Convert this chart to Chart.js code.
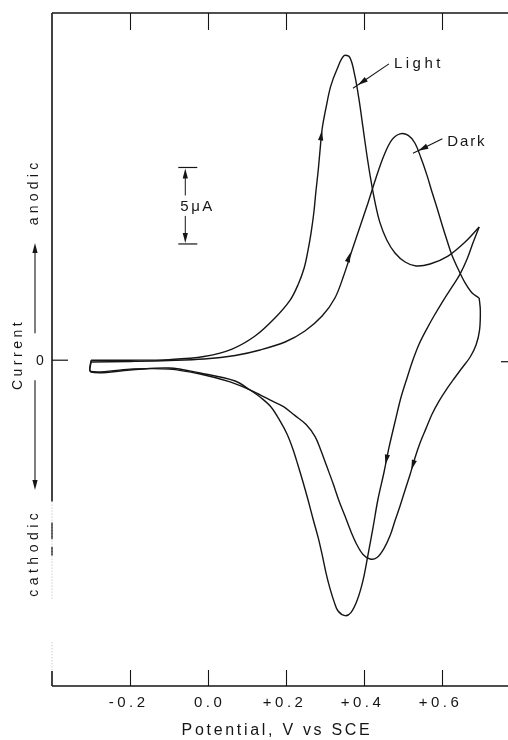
<!DOCTYPE html>
<html>
<head>
<meta charset="utf-8">
<script src="https://cdn.jsdelivr.net/npm/chart.js@4.4.1/dist/chart.umd.min.js"></script>
<style>
  html, body { margin: 0; padding: 0; background: #ffffff; }
  canvas { display: block; }
</style>
</head>
<body>
<canvas id="cv" width="508" height="740"></canvas>
<script>
// Potential axis (V vs SCE)
const potentialTicks = [-0.2, 0.0, 0.2, 0.4, 0.6];
const potentialTickLabels = ['-0.2', '0.0', '+0.2', '+0.4', '+0.6'];

// Illuminated electrode, anodic sweep -0.3 -> +0.7 V: potential (V), current (µA)
const lightFwdE = [-0.30, -0.20, -0.10, -0.01, 0.062, 0.121, 0.172, 0.211, 0.231, 0.247,
  0.257, 0.265, 0.272, 0.277, 0.283, 0.288, 0.293, 0.303, 0.315, 0.331,
  0.349, 0.364, 0.377, 0.388, 0.398, 0.408, 0.418, 0.429, 0.441, 0.459,
  0.480, 0.506, 0.534, 0.570, 0.616, 0.660, 0.696];
const lightFwdI = [0.00, 0.00, 0.04, 0.24, 0.73, 1.58, 2.76, 3.93, 4.92, 6.03,
  7.20, 8.38, 9.69, 11.0, 12.4, 13.8, 15.1, 16.5, 17.9, 19.0,
  19.9, 19.8, 18.6, 17.0, 15.2, 13.4, 11.8, 10.3, 9.03, 7.86,
  7.01, 6.42, 6.16, 6.29, 6.81, 7.73, 8.71];

// Illuminated electrode, cathodic sweep +0.7 -> -0.3 V
const lightRevE = [0.696, 0.680, 0.665, 0.647, 0.626, 0.603, 0.580, 0.560, 0.542, 0.526,
  0.511, 0.495, 0.480, 0.465, 0.452, 0.436, 0.424, 0.411, 0.398, 0.383,
  0.367, 0.352, 0.334, 0.324, 0.313, 0.303, 0.293, 0.283, 0.270, 0.257,
  0.244, 0.231, 0.218, 0.203, 0.185, 0.162, 0.137, 0.108, 0.070, -0.02,
  -0.10, -0.20, -0.30, -0.30];
const lightRevI = [8.71, 7.66, 6.61, 5.63, 4.78, 3.87, 2.89, 1.97, 1.06, 0.01,
  -1.16, -2.47, -4.04, -5.67, -7.31, -9.14, -10.9, -12.7, -14.4, -15.7,
  -16.5, -16.7, -16.4, -15.8, -14.9, -13.9, -12.7, -11.6, -10.4, -9.14,
  -7.96, -6.85, -5.80, -4.82, -3.97, -3.06, -2.47, -1.95, -1.36, -0.84,
  -0.51, -0.64, -0.77, 0.00];

// Electrode in the dark, anodic sweep
const darkFwdE = [-0.30, -0.20, -0.10, -0.01, 0.070, 0.134, 0.198, 0.249, 0.293, 0.326,
  0.349, 0.370, 0.390, 0.411, 0.431, 0.452, 0.472, 0.493, 0.514, 0.531,
  0.547, 0.562, 0.575, 0.588, 0.601, 0.614, 0.626, 0.642, 0.660, 0.678, 0.696];
const darkFwdI = [-0.12, -0.08, -0.02, 0.08, 0.31, 0.67, 1.19, 1.91, 2.89, 4.07,
  5.57, 7.20, 8.71, 10.3, 11.9, 13.4, 14.4, 14.8, 14.7, 14.2,
  13.2, 12.1, 11.0, 9.95, 8.84, 7.79, 6.88, 5.96, 5.05, 4.39, 4.07];

// Electrode in the dark, cathodic sweep
const darkRevE = [0.696, 0.699, 0.697, 0.688, 0.673, 0.652, 0.631, 0.611, 0.593, 0.575,
  0.560, 0.544, 0.531, 0.519, 0.506, 0.493, 0.480, 0.467, 0.452, 0.434,
  0.416, 0.398, 0.383, 0.367, 0.352, 0.336, 0.321, 0.305, 0.290, 0.275,
  0.252, 0.223, 0.193, 0.159, 0.134, 0.108, 0.057, -0.02, -0.10, -0.20,
  -0.30, -0.30];
const darkRevI = [4.07, 3.27, 1.97, 0.99, 0.21, -0.51, -1.23, -1.95, -2.67, -3.53,
  -4.44, -5.43, -6.41, -7.46, -8.48, -9.53, -10.5, -11.5, -12.3, -12.9,
  -13.0, -12.7, -12.1, -11.2, -10.2, -9.17, -8.05, -6.94, -5.90, -4.99,
  -4.20, -3.61, -3.02, -2.60, -2.27, -1.94, -1.42, -0.90, -0.58, -0.58,
  -0.74, -0.12];

const curveNames = ['Light', 'Dark'];

// Scan-direction arrowheads: [dataset index, potential, current]
const scanArrows = [
  [0, 0.291, 14.7],
  [2, 0.362, 6.74],
  [1, 0.458, -6.5],
  [3, 0.526, -6.85]
];

// Leader tips for the curve names: [potential, current]
const labelTips = [
  [0.385, 18.0],
  [0.540, 13.7]
];

// Current scale bar (µA), placed at this potential with its top at this current
const scaleBarSpan = 5;
const scaleBarE = -0.058;
const scaleBarTopI = 12.6;

const INK = '#151515';
const FONT = '"Liberation Sans", Arial, sans-serif';

function toPoints(xs, ys) {
  return xs.map((x, k) => ({ x: x, y: ys[k] }));
}

function arrowHead(ctx, tx, ty, ang, len, half) {
  ctx.beginPath();
  ctx.moveTo(tx, ty);
  ctx.lineTo(tx - len * Math.cos(ang) + half * Math.sin(ang), ty - len * Math.sin(ang) - half * Math.cos(ang));
  ctx.lineTo(tx - len * Math.cos(ang) - half * Math.sin(ang), ty - len * Math.sin(ang) + half * Math.cos(ang));
  ctx.closePath();
  ctx.fill();
}

function line(ctx, x1, y1, x2, y2) {
  ctx.beginPath();
  ctx.moveTo(x1, y1);
  ctx.lineTo(x2, y2);
  ctx.stroke();
}

function vText(ctx, str, x, y, size, spacing) {
  ctx.save();
  ctx.translate(x, y);
  ctx.rotate(-Math.PI / 2);
  ctx.font = size + 'px ' + FONT;
  ctx.letterSpacing = spacing + 'px';
  ctx.textAlign = 'center';
  ctx.textBaseline = 'alphabetic';
  ctx.fillText(str, spacing / 2, 0);
  ctx.restore();
}

const voltammogramFrame = {
  id: 'voltammogramFrame',
  afterDatasetsDraw(chart) {
    const ctx = chart.ctx;
    const a = chart.chartArea;
    const xs = chart.scales.x;
    const ys = chart.scales.y;
    const y0 = ys.getPixelForValue(0);
    const h = a.bottom - a.top;

    ctx.save();
    ctx.strokeStyle = INK;
    ctx.fillStyle = INK;
    ctx.lineCap = 'butt';

    // frame: top and bottom rules, left axis fading out toward the bottom
    ctx.lineWidth = 1.6;
    line(ctx, a.left, a.top, a.right, a.top);
    line(ctx, a.left, a.bottom, a.right, a.bottom);
    line(ctx, a.left, a.top, a.left, a.top + h * 0.726);
    line(ctx, a.left, a.bottom - 15, a.left, a.bottom);
    ctx.lineWidth = 1.4;
    line(ctx, a.left, a.top + h * 0.757, a.left, a.top + h * 0.782);
    line(ctx, a.left, a.top + h * 0.793, a.left, a.top + h * 0.806);
    ctx.strokeStyle = '#b5b5b5';
    ctx.lineWidth = 1;
    ctx.setLineDash([1, 2]);
    line(ctx, a.left, a.top + h * 0.726, a.left, a.top + h * 0.87);
    line(ctx, a.left, a.top + h * 0.935, a.left, a.bottom - 15);
    ctx.setLineDash([]);
    ctx.strokeStyle = INK;

    // inward ticks on the potential axes
    ctx.lineWidth = 1.1;
    potentialTicks.forEach(v => {
      const px = Math.round(xs.getPixelForValue(v)) + 0.5;
      line(ctx, px, a.top, px, a.top + 17);
      line(ctx, px, a.bottom, px, a.bottom - 16);
    });

    // zero-current ticks
    ctx.lineWidth = 1.2;
    line(ctx, a.left, y0, a.left + 16, y0);
    line(ctx, a.right - 7, y0 + 1.5, a.right, y0 + 1.5);

    // potential tick labels
    ctx.font = '15px ' + FONT;
    ctx.letterSpacing = '3.5px';
    ctx.textAlign = 'center';
    ctx.textBaseline = 'alphabetic';
    potentialTicks.forEach((v, k) => {
      const lab = potentialTickLabels[k];
      const shift = /^[+-]/.test(lab) ? -3 : 0;
      ctx.fillText(lab, xs.getPixelForValue(v) + shift + 1.75, a.bottom + 21);
    });

    // potential axis title
    ctx.font = '16px ' + FONT;
    ctx.letterSpacing = '2.7px';
    ctx.fillText('Potential, V vs SCE', 277, a.bottom + 49);

    // current axis: zero label, direction words and arrows
    ctx.font = '14px ' + FONT;
    ctx.letterSpacing = '0px';
    ctx.textAlign = 'center';
    ctx.textBaseline = 'middle';
    ctx.fillText('0', 40, y0 + 1);
    vText(ctx, 'Current', 22, y0 - 4, 14, 3.5);
    vText(ctx, 'anodic', 38, 194, 14, 4.2);
    vText(ctx, 'cathodic', 38, 555, 14, 4.5);

    ctx.lineWidth = 1.1;
    line(ctx, 35, y0 - 27, 35, 250);
    arrowHead(ctx, 35, 243, -Math.PI / 2, 10, 2.6);
    line(ctx, 35, y0 + 20, 35, 482);
    arrowHead(ctx, 35, 490, Math.PI / 2, 10, 2.6);

    // 5 µA scale bar
    const bx = xs.getPixelForValue(scaleBarE);
    const bTop = ys.getPixelForValue(scaleBarTopI);
    const bBot = ys.getPixelForValue(scaleBarTopI - scaleBarSpan);
    ctx.lineWidth = 1.2;
    line(ctx, bx - 7, bTop, bx + 12, bTop);
    line(ctx, bx - 7, bBot, bx + 12, bBot);
    ctx.lineWidth = 1;
    line(ctx, bx, bTop + 8, bx, bTop + 28);
    line(ctx, bx, bBot - 28, bx, bBot - 8);
    arrowHead(ctx, bx, bTop + 1, -Math.PI / 2, 10, 2.6);
    arrowHead(ctx, bx, bBot - 1, Math.PI / 2, 10, 2.6);
    ctx.font = '15px ' + FONT;
    ctx.letterSpacing = '2.5px';
    ctx.textAlign = 'left';
    ctx.textBaseline = 'alphabetic';
    ctx.fillText('5\u03bcA', bx - 5, (bTop + bBot) / 2 + 5.5);

    // scan-direction arrowheads on the curves
    scanArrows.forEach(([di, e, i]) => {
      const pts = chart.getDatasetMeta(di).data;
      const src = chart.data.datasets[di].data;
      let best = 1, bestD = Infinity;
      src.forEach((p, k) => {
        const d = Math.hypot(xs.getPixelForValue(p.x) - xs.getPixelForValue(e),
                             ys.getPixelForValue(p.y) - ys.getPixelForValue(i));
        if (d < bestD && k > 0 && k < src.length - 1) { bestD = d; best = k; }
      });
      const p0 = pts[best - 1], p2 = pts[best + 1];
      const ang = Math.atan2(p2.y - p0.y, p2.x - p0.x);
      const cx = xs.getPixelForValue(e), cy = ys.getPixelForValue(i);
      arrowHead(ctx, cx + 5 * Math.cos(ang), cy + 5 * Math.sin(ang), ang, 10, 2.6);
    });

    // curve names with leader arrows
    ctx.font = '15px ' + FONT;
    ctx.textAlign = 'left';
    ctx.textBaseline = 'alphabetic';
    const textOffsets = [[36, -17, 31, -21, 3.5], [29, -5, 24, -12, 1.8]];
    labelTips.forEach(([e, i], k) => {
      const tx = xs.getPixelForValue(e);
      const ty = ys.getPixelForValue(i);
      const [dx, dy, lx, ly, sp] = textOffsets[k];
      ctx.lineWidth = 1.1;
      const ang = Math.atan2(-ly, -lx);
      line(ctx, tx + lx, ty + ly, tx + 6 * Math.cos(ang), ty + 6 * Math.sin(ang));
      arrowHead(ctx, tx, ty, ang, 10, 2.8);
      ctx.letterSpacing = sp + 'px';
      ctx.fillText(curveNames[k], tx + dx, ty + dy);
    });

    ctx.restore();
  }
};

const curveStyle = {
  showLine: true,
  borderColor: INK,
  borderWidth: 1.4,
  pointRadius: 0,
  pointHoverRadius: 0,
  tension: 0.35,
  fill: false
};

new Chart(document.getElementById('cv').getContext('2d'), {
  type: 'scatter',
  data: {
    datasets: [
      Object.assign({ label: curveNames[0] + ' (anodic)', data: toPoints(lightFwdE, lightFwdI) }, curveStyle),
      Object.assign({ label: curveNames[0] + ' (cathodic)', data: toPoints(lightRevE, lightRevI) }, curveStyle),
      Object.assign({ label: curveNames[1] + ' (anodic)', data: toPoints(darkFwdE, darkFwdI) }, curveStyle),
      Object.assign({ label: curveNames[1] + ' (cathodic)', data: toPoints(darkRevE, darkRevI) }, curveStyle)
    ]
  },
  options: {
    responsive: false,
    animation: false,
    devicePixelRatio: 1,
    layout: { padding: { left: 52, top: 13, right: 0, bottom: 54 } },
    plugins: { legend: { display: false }, tooltip: { enabled: false } },
    scales: {
      x: { type: 'linear', min: -0.4, max: 0.77, display: false },
      y: { type: 'linear', min: -21.3, max: 22.7, display: false }
    }
  },
  plugins: [voltammogramFrame]
});
</script>
</body>
</html>
